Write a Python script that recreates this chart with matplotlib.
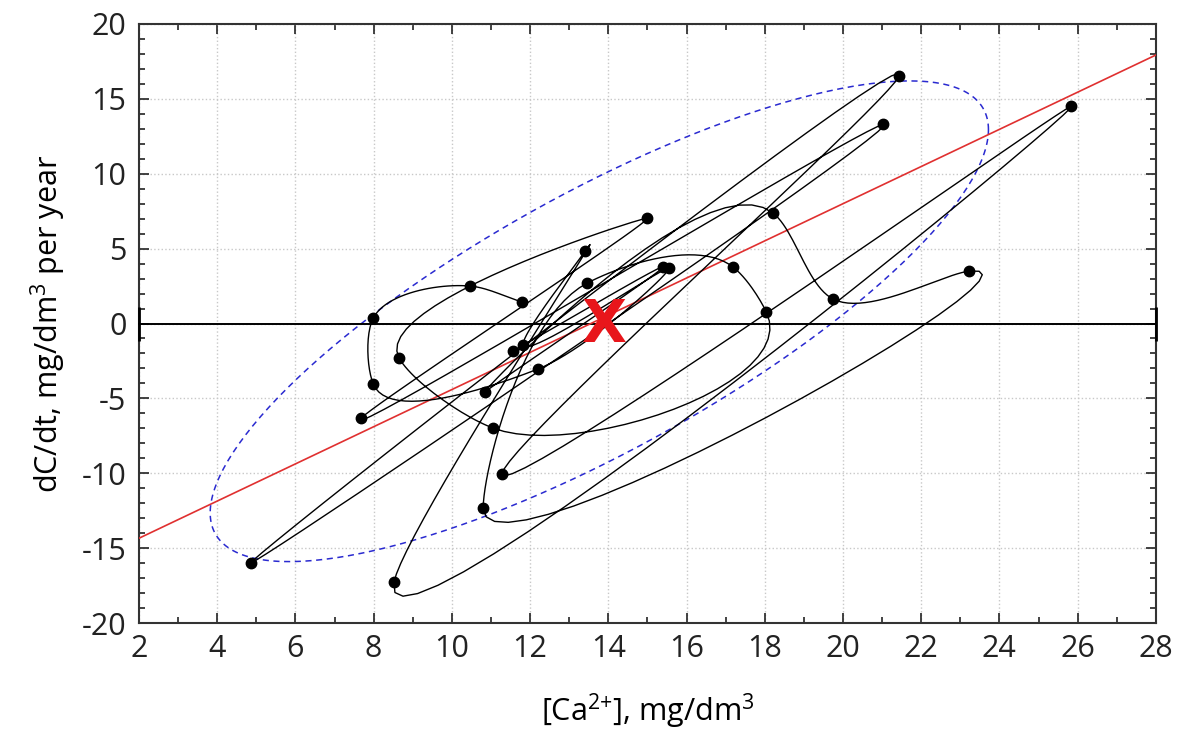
import matplotlib.pyplot as plt
import numpy as np
from matplotlib.ticker import MultipleLocator

# yearly points in time order: Ca concentration and its rate of change
ca = [11.57, 15.40, 10.85, 18.21, 19.75, 23.23, 10.80, 13.46, 17.19, 18.04,
      11.05, 8.65, 14.99, 7.68, 21.03, 4.86, 21.44, 11.28, 25.84, 8.52,
      13.41, 11.82, 15.55, 12.20, 7.99, 7.99, 10.47, 11.80]
dcdt = [-1.83, 3.80, -4.57, 7.38, 1.63, 3.50, -12.32, 2.70, 3.77, 0.77,
        -6.98, -2.30, 7.04, -6.31, 13.30, -15.99, 16.52, -10.05, 14.52, -17.26,
        4.84, -1.43, 3.70, -3.04, -4.04, 0.36, 2.50, 1.43]

# regression line and centre
reg_slope = 1.241
reg_icpt = -16.82
center = (13.9, -0.1)

# 95% ellipse: centre, half extents, correlation
ell_cx, ell_cy = 13.77, 0.15
ell_ax, ell_by = 9.95, 16.05
ell_r = 0.797


def spline(xs, ys, alpha=1.0, n=24, kx=39.1, ky=15.0):
    # non-uniform catmull-rom, knots spaced by distance on screen
    p = np.column_stack([np.asarray(xs) * kx, np.asarray(ys) * ky])
    p = np.vstack([2 * p[0] - p[1], p, 2 * p[-1] - p[-2]])
    d = np.linalg.norm(np.diff(p, axis=0), axis=1) ** alpha
    d[d == 0] = 1e-6
    knots = np.concatenate([[0], np.cumsum(d)])
    out = []
    for i in range(1, len(p) - 2):
        t0, t1, t2, t3 = knots[i - 1:i + 3]
        p0, p1, p2, p3 = p[i - 1:i + 3]
        t = np.linspace(t1, t2, n, endpoint=False)[:, None]
        a1 = (t1 - t) / (t1 - t0) * p0 + (t - t0) / (t1 - t0) * p1
        a2 = (t2 - t) / (t2 - t1) * p1 + (t - t1) / (t2 - t1) * p2
        a3 = (t3 - t) / (t3 - t2) * p2 + (t - t2) / (t3 - t2) * p3
        b1 = (t2 - t) / (t2 - t0) * a1 + (t - t0) / (t2 - t0) * a2
        b2 = (t3 - t) / (t3 - t1) * a2 + (t - t1) / (t3 - t1) * a3
        c = (t2 - t) / (t2 - t1) * b1 + (t - t1) / (t2 - t1) * b2
        out.append(c)
    out.append(p[-2][None, :])
    out = np.vstack(out)
    return out[:, 0] / kx, out[:, 1] / ky


plt.rcParams['font.family'] = ['Open Sans', 'DejaVu Sans']
plt.rcParams['mathtext.fontset'] = 'custom'
plt.rcParams['mathtext.rm'] = 'Open Sans'
plt.rcParams['mathtext.default'] = 'regular'
plt.rcParams['axes.unicode_minus'] = False
fig = plt.figure(figsize=(11.81, 7.36), dpi=100)
ax = fig.add_axes([0.1177, 0.1535, 0.861, 0.8139])

ax.set_xlim(2, 28)
ax.set_ylim(-20, 20)
ax.xaxis.set_major_locator(MultipleLocator(2))
ax.xaxis.set_minor_locator(MultipleLocator(1))
ax.yaxis.set_major_locator(MultipleLocator(5))
ax.yaxis.set_minor_locator(MultipleLocator(1))
ax.tick_params(which='both', direction='in', top=True, right=True, labelsize=22, width=1.2, colors='#222222')
ax.tick_params(which='major', length=7)
ax.tick_params(axis='x', which='major', pad=8)
ax.tick_params(axis='y', which='major', pad=9)
ax.tick_params(which='minor', length=4)
ax.grid(True, which='major', color='#c8c8c8', linestyle=':', linewidth=1.0)
for s in ax.spines.values():
    s.set_linewidth(1.5)
    s.set_color('#333333')

# zero line with end bars
ax.plot([2, 28], [0, 0], color='black', lw=1.4, marker='|', markersize=24, mew=2, zorder=3, clip_on=False)

# ellipse
t = np.linspace(0, 2 * np.pi, 300)
ex = ell_cx + ell_ax * np.cos(t)
ey = ell_cy + ell_by * (ell_r * np.cos(t) + np.sqrt(1 - ell_r ** 2) * np.sin(t))
ax.plot(ex, ey, color='#2a2ad0', lw=1.1, linestyle=(0, (4, 3)), zorder=2)

# regression line
xr = np.array([2, 28])
ax.plot(xr, reg_icpt + reg_slope * xr, color='#e03030', lw=1.2, zorder=4)

# trajectory
sx, sy = spline(ca, dcdt)
ax.plot(sx, sy, color='black', lw=1.0, zorder=5)
ax.plot(ca, dcdt, 'o', color='black', markersize=7.5, zorder=6)

ax.text(center[0], center[1], 'X', color='#e8161b', fontsize=42, fontweight='bold',
        ha='center', va='center', zorder=7, family='DejaVu Sans')

ax.set_xlabel('[Ca$^{2{+}}$], mg/dm$^{3}$', fontsize=22, labelpad=20)
ax.set_ylabel('dC/dt, mg/dm$^{3}$ per year', fontsize=22, labelpad=10)

fig.savefig('out.png', dpi=100)
